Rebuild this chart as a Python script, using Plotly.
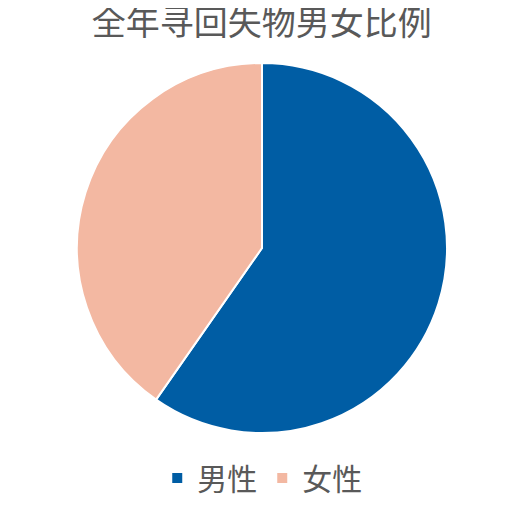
import plotly.graph_objects as go

labels = ['男性', '女性']
values = [59.7, 40.3]
colors = ['#005da4', '#f3b8a2']

fig = go.Figure()
fig.add_trace(go.Pie(
    labels=labels,
    values=values,
    sort=False,
    direction='clockwise',
    rotation=0,
    marker=dict(colors=colors, line=dict(color='white', width=2)),
    textinfo='none',
    hoverinfo='label+percent',
    domain=dict(x=[69 / 521, 439 / 521], y=[83 / 508, 453 / 508]),
))

fig.update_layout(
    width=521, height=508,
    margin=dict(l=0, r=0, t=0, b=0, autoexpand=False),
    paper_bgcolor='white',
    plot_bgcolor='white',
    title=dict(text='全年寻回失物男女比例', x=0.487, xanchor='center', y=0.971, yanchor='middle',
               font=dict(family='Noto Sans CJK SC', size=34, color='#595959')),
    legend=dict(orientation='h', x=0.488, xanchor='center', y=0.075, yanchor='middle',
                font=dict(family='Noto Sans CJK SC', size=30, color='#595959')),
)

fig.write_html('out.html')
